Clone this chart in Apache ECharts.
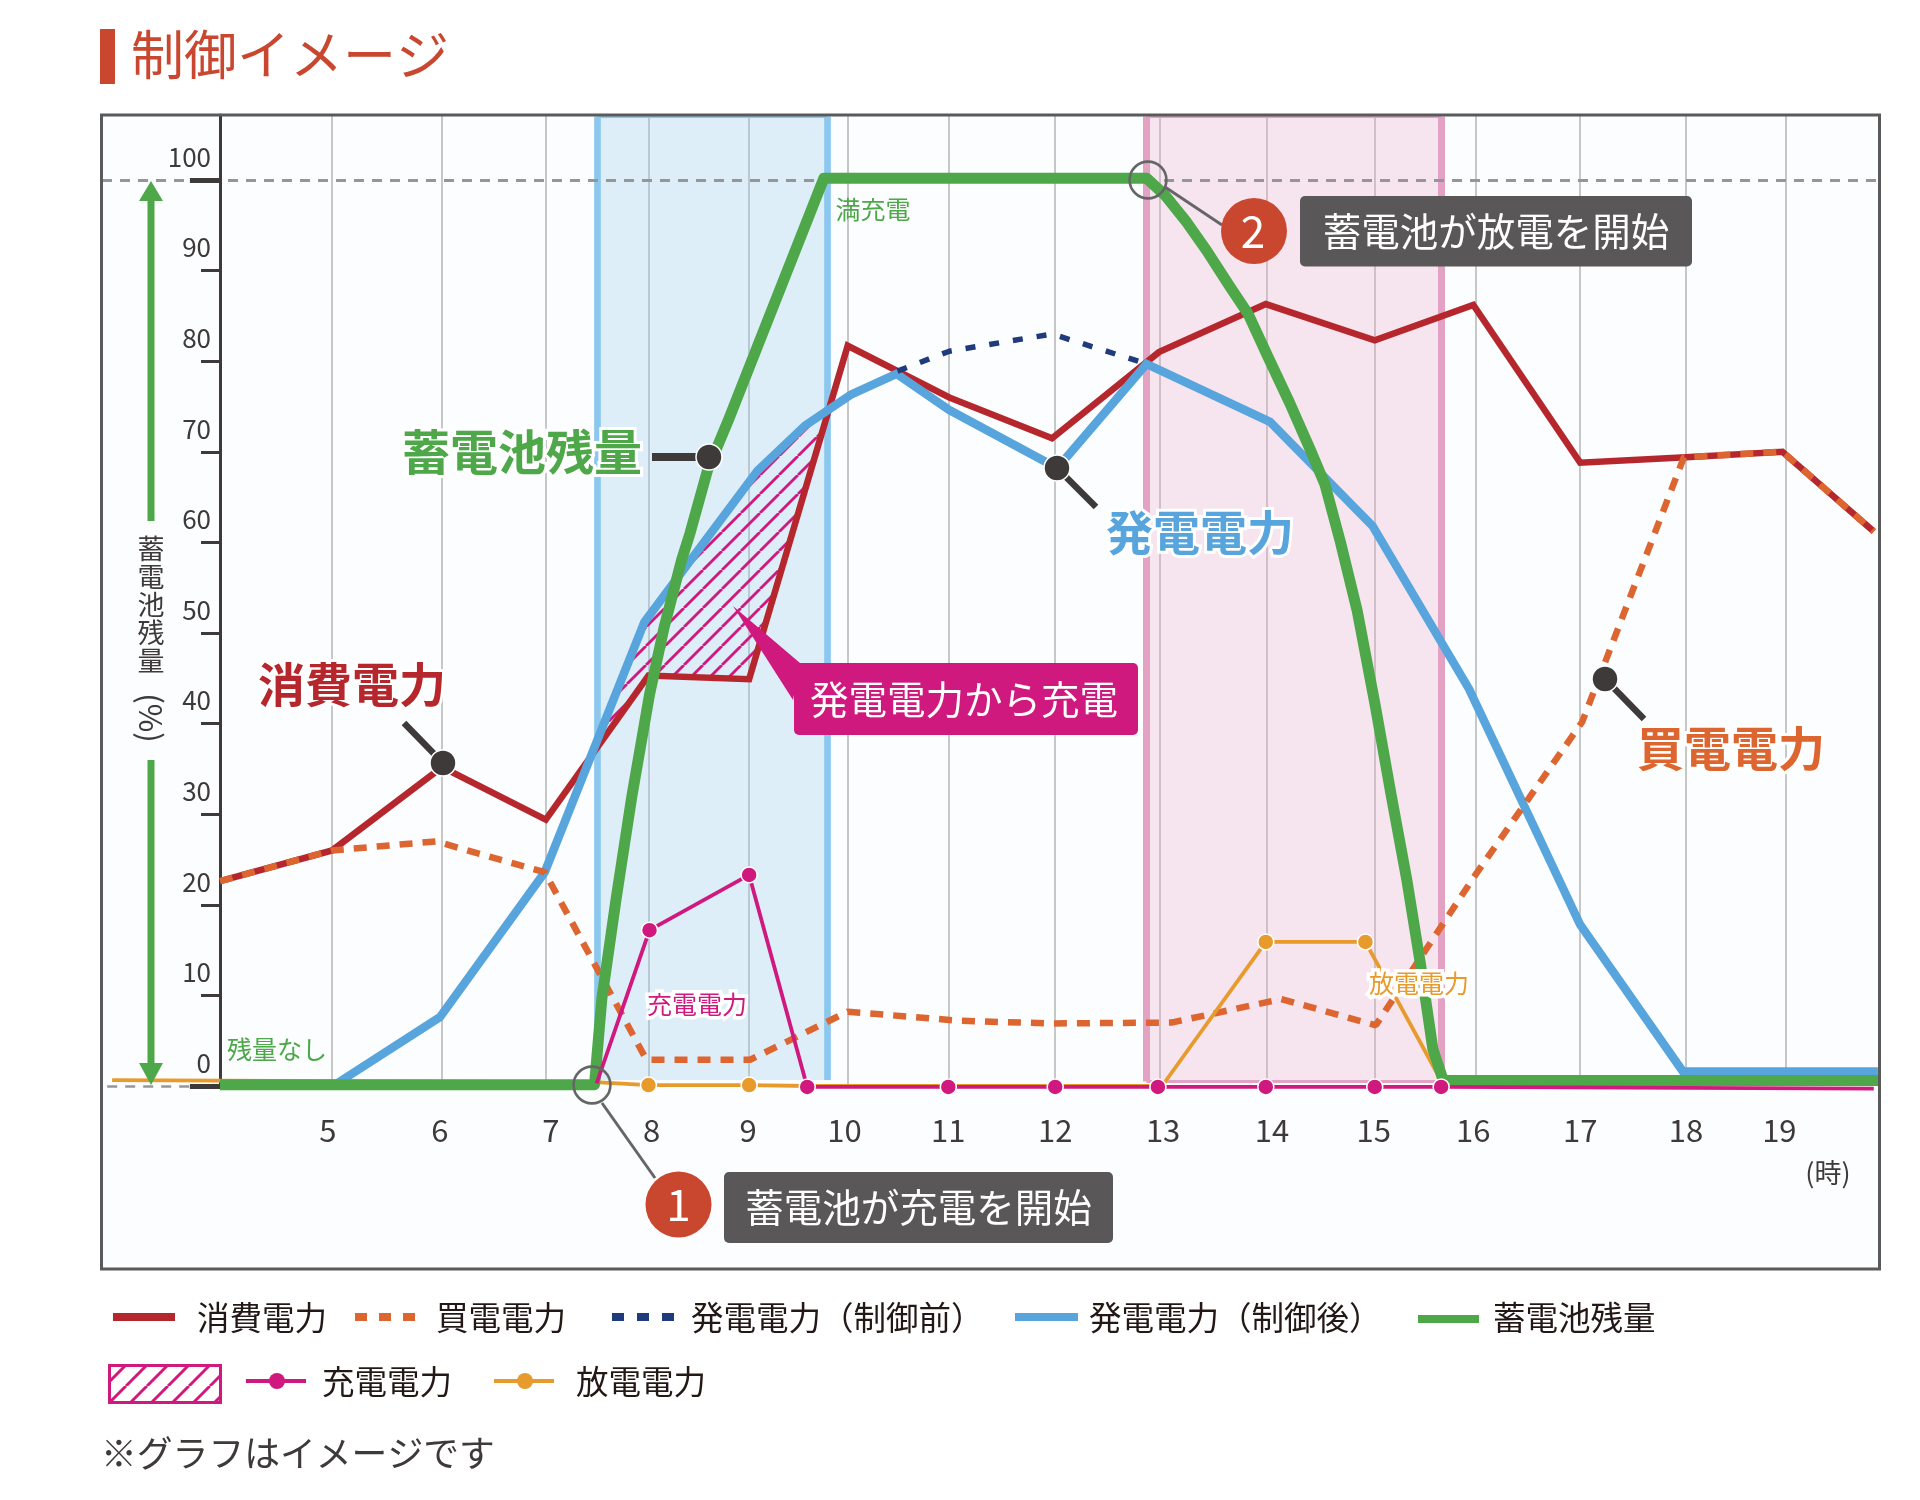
<!DOCTYPE html>
<html><head><meta charset="utf-8">
<style>html,body{margin:0;padding:0;background:#fff}#c{width:1920px;height:1500px}</style>
<script src="https://cdn.jsdelivr.net/npm/echarts@6/dist/echarts.min.js"></script>
</head><body><div id="c"></div>
<script>
// ---------- data (hours on a linear clock scale, values in %) ----------
const gridHours = [5.08,6.14,7.14,8.13,9.10,10.05,11.02,12.05,13.06,14.09,15.13,16.10,17.11,18.13,19.09];
const labelHours = [5.04,6.12,7.19,8.16,9.09,10.02,11.02,12.05,13.09,14.14,15.12,16.08,17.11,18.13,19.03];
const yTicks = [0,10,20,30,40,50,60,70,80,90,100];

const consumedT = [4,5.08,6.14,7.14,8.13,9.10,10.05,11.03,12.02,13.05,14.08,15.13,16.08,17.11,18.13,19.06,19.94];
const consumedV = [22.6,26,35.2,29.4,45.3,44.9,81.7,76,71.5,81,86.3,82.3,86.2,68.8,69.4,70,61.2];
const boughtT = [4,5.08,6.08,7.13,8.11,9.11,10.05,11.13,12.02,13.17,14.23,15.14,16.10,17.13,18.11,19.06,19.94];
const boughtV = [22.6,26,27,23.6,2.9,2.9,8.2,7.2,6.9,7,9.6,6.7,23.3,40.2,69.4,70,61.2];
const genBeforeT = [10.53,11.03,12.02,12.93];
const genBeforeV = [78.9,81.1,83,79.7];
const genAfterT = [5.13,6.12,7.13,8.09,9.18,9.64,10.08,10.52,11.03,12.07,12.93,14.12,15.11,16.04,17.11,18.10,19.98];
const genAfterV = [0.3,7.6,23.6,51.2,67.9,72.9,76.3,78.6,74.6,68.2,79.7,73.3,61.8,43.8,17.8,1.6,1.6];
// battery, read as one polyline with many close points along the curves
const batteryT = [4,7.61,7.68,7.82,7.97,8.14,8.28,8.45,8.53,8.70,8.90,9.82,12.93,13.11,13.32,13.51,13.73,13.91,14.10,14.31,14.51,14.65,14.80,14.96,15.13,15.29,15.44,15.57,15.69,15.79,20];
const batteryV = [0.15,0.15,9.6,20.8,32,43.2,50.6,58.1,61,68,73.5,100.2,100.2,98.3,95.3,92.2,88.3,85.2,80.5,75.4,70.2,66.4,60.0,52.5,42.3,32.0,22.7,13.5,4.1,0.6,0.6];
const chargeT = [7.63,8.14,9.10,9.66,11.02,12.05,13.04,14.08,15.13,15.77,19.94];
const chargeV = [0.3,17.2,23.3,-0.1,-0.1,-0.1,-0.1,-0.1,-0.1,-0.1,-0.3];
const chargeDots = [1,2,3,4,5,6,7,8,9];
const dischargeT = [2.96,7.66,8.13,9.10,9.66,13.08,14.08,15.04,15.76];
const dischargeV = [0.65,0.4,0.1,0.1,0,0,15.9,15.9,0.8];
const dischargeDots = [2,3,6,7];
const hatchT = [7.58,8.09,9.18,9.64,9.87,9.10,8.13];
const hatchV = [36.7,51.2,67.9,72.9,74.6,44.9,45.3];
const chargeBand = [7.64,9.85];
const dischargeBand = [12.93,15.77];

// ---------- style ----------
const JP = '"Noto Sans CJK JP"';
const RED='#b5272d', ORANGE='#dd6530', NAVY='#1f3a7d', BLUE='#57a5dc', GREEN='#4ea84a', PINK='#d0197f', AMBER='#e89b2d', INK='#3e3a39', BADGE='#c9472f', BOX='#595757';
const X0=2.8627, X1=20, YMAX=107.17;
const zip=(t,v)=>t.map((x,i)=>[x,v[i]]);

function hatchPattern(s,w){
  const c=document.createElement('canvas');c.width=s;c.height=s;
  const g=c.getContext('2d');g.strokeStyle=PINK;g.lineWidth=w;
  for(const o of [-s,0,s]){g.beginPath();g.moveTo(o,s);g.lineTo(o+s,0);g.stroke();}
  return {image:c,repeat:'repeat'};
}
const hatch=hatchPattern(19,2.8), hatchLegend=hatchPattern(21,3);

function lineSeries(name,t,v,color,width,z,extra){
  return Object.assign({name,type:'line',data:zip(t,v),showSymbol:false,symbol:'none',clip:false,z,
    lineStyle:{color,width,join:'round'},silent:true},extra||{});
}
function dotSeries(name,t,v,dots,color,z){
  const set=new Set(dots);
  return {name,type:'line',clip:false,z,silent:true,showSymbol:true,showAllSymbol:true,symbol:'circle',
    symbolSize:(val,p)=>set.has(p.dataIndex)?16:0,
    itemStyle:{color,borderColor:'#fff',borderWidth:1.5},
    lineStyle:{color,width:3.8},data:zip(t,v)};
}
const seg=(a,b,color,width,type)=>[{coord:a,lineStyle:{color,width,type:type||'solid'}},{coord:b}];

const guides={type:'line',data:[],silent:true,z:1,
  markArea:{silent:true,data:[
    [{xAxis:chargeBand[0],yAxis:0.66,itemStyle:{color:'rgba(154,205,237,.3)'}},{xAxis:chargeBand[1],yAxis:107}],
    [{xAxis:dischargeBand[0],yAxis:0.5,itemStyle:{color:'rgba(234,173,201,.3)'}},{xAxis:dischargeBand[1],yAxis:107}]
  ]},
  markLine:{silent:true,symbol:'none',label:{show:false},animation:false,data:[
    seg([chargeBand[0],0.66],[chargeBand[0],107],'#8cc8ee',6.7),
    seg([chargeBand[1],0.66],[chargeBand[1],107],'#8cc8ee',6.7),
    seg([chargeBand[0],107],[chargeBand[1],107],'#8cc8ee',3),
    seg([dischargeBand[0],0.5],[dischargeBand[0],107],'#e3a2c3',7),
    seg([dischargeBand[1],0.5],[dischargeBand[1],107],'#e3a2c3',7),
    seg([dischargeBand[0],107],[dischargeBand[1],107],'#e3a2c3',3),
    seg([dischargeBand[0],0.5],[dischargeBand[1],0.5],'#e3a2c3',3),
    seg([X0,100],[X1,100],'#969696',3,[10,8]),
    seg([X0+0.05,0],[3.71,0],'#969696',2.5,[10,8]),
    seg([3.71,100],[4,100],INK,5),
    seg([3.71,0],[4,0],INK,5),
    seg([4,-0.1],[X1,-0.1],INK,3)
  ]}
};
const hatchSeries={type:'custom',z:1,silent:true,clip:false,data:[[hatchT[0],hatchV[0]]],
  renderItem:(p,api)=>({type:'polygon',
    shape:{points:hatchT.map((t,i)=>api.coord([t,hatchV[i]]))},
    style:{fill:hatch,stroke:null}})};

// ---------- annotations ----------
const G=[];
const txt=(s,x,y,size,fill,o)=>G.push(Object.assign({type:'text',z:(o&&o.z)||60,silent:true,style:Object.assign({text:s,x,y,fontSize:size,fontFamily:JP,fill,align:'center',verticalAlign:'middle'},o&&o.style||{})},o&&o.top||{}));
const halo={stroke:'#fff',lineWidth:7,strokeFirst:true,lineJoin:'round'};
const rect=(x,y,w,h,fill,z,r,stroke,lw)=>G.push({type:'rect',z,silent:true,shape:{x,y,width:w,height:h,r:r||0},style:{fill,stroke:stroke||null,lineWidth:lw||0}});
const ln=(x1,y1,x2,y2,stroke,lw,z,dash)=>G.push({type:'line',z,silent:true,shape:{x1,y1,x2,y2},style:{stroke,lineWidth:lw,lineDash:dash||null}});
const circ=(cx,cy,r,fill,z,stroke,lw)=>G.push({type:'circle',z,silent:true,shape:{cx,cy,r},style:{fill,stroke:stroke||null,lineWidth:lw||0}});
const poly=(pts,fill,z)=>G.push({type:'polygon',z,silent:true,shape:{points:pts},style:{fill}});

rect(101,115,1779,1154,'#fbfdfe',-10);
rect(101.5,115,1778,1154,null,40,0,'#5a5a5a',3);
rect(100,29,15,55,BADGE,60);
txt('制御イメージ',131,55,53,BADGE,{style:{align:'left'}});
// left arrows
poly([[151,181],[163,201],[139,201]],GREEN,20); rect(147.5,201,7,320,GREEN,20);
rect(147.5,760,7,303,GREEN,20); poly([[151,1085],[163,1063],[139,1063]],GREEN,20);
txt('蓄',151,549,27,INK);txt('電',151,577,27,INK);txt('池',151,605,27,INK);txt('残',151,633,27,INK);txt('量',151,661,27,INK);
G.push({type:'text',z:60,silent:true,x:151,y:718,rotation:-Math.PI/2,style:{text:'(%)',x:0,y:0,fontSize:31,fontFamily:JP,fill:INK,align:'center',verticalAlign:'middle'}});
txt('(時)',1828,1173,27,INK);
// inline labels
txt('満充電',873,209,25,GREEN);
txt('残量なし',277,1049,25,GREEN);
txt('充電電力',697,1004,25,PINK,{style:halo});
txt('放電電力',1419,983,25,AMBER,{style:halo});
const bold={fontWeight:700,stroke:'#fff',lineWidth:6,strokeFirst:true,lineJoin:'round'};
txt('蓄電池残量',522,452,48,GREEN,{style:bold});
txt('消費電力',352,684,47,RED,{style:bold});
txt('発電電力',1200,532,47,BLUE,{style:bold});
txt('買電電力',1731,748,47,ORANGE,{style:bold});
// leader pins
ln(652,457,705,457,INK,8,55); circ(709,457,13,INK,56,'#fff',1.5);
ln(404,723,443,763,INK,6.5,55); circ(443,763,13,INK,56,'#fff',1.5);
ln(1096,507,1057,468,INK,6.5,55); circ(1057,468,13,INK,56,'#fff',1.5);
ln(1644,719,1605,679,INK,6.5,55); circ(1605,679,13,INK,56,'#fff',1.5);
// numbered callouts
circ(592,1085,18.4,null,50,'#666',2.6); ln(602,1103,655,1178,'#666',3,50);
circ(678.5,1204.5,33,BADGE,60); txt('1',678.5,1204,44,'#fff');
rect(724,1172,389,71,BOX,60,5); txt('蓄電池が充電を開始',918.5,1207,38.5,'#fff');
circ(1148,180,18.4,null,50,'#666',2.6); ln(1165,187,1222,225,'#666',3,50);
circ(1254,231,33,BADGE,60); txt('2',1253,231,44,'#fff');
rect(1300,196,392,70.5,BOX,60,5); txt('蓄電池が放電を開始',1496,231,38.5,'#fff');
// pink callout
poly([[733,606],[800,663],[793,700]],PINK,58); rect(794,663,344,72,PINK,58,5);
txt('発電電力から充電',964,699,38.5,'#fff');
// legend
const TXT='#231815';
const lg=(s,x,y)=>txt(s,x,y,32.5,TXT,{style:{align:'left'}});
ln(113,1317,175,1317,RED,8,60); lg('消費電力',197,1318);
ln(355,1317,415,1317,ORANGE,8,60,[12,12]); lg('買電電力',436,1318);
ln(612,1317,674,1317,NAVY,8,60,[12,13]); lg('発電電力（制御前）',691,1318);
ln(1015,1317,1078,1317,BLUE,8,60); lg('発電電力（制御後）',1089,1318);
ln(1418,1319,1479,1319,GREEN,8,60); lg('蓄電池残量',1493,1318);
G.push({type:'rect',z:60,silent:true,shape:{x:109.5,y:1365.5,width:111,height:37},style:{fill:hatchLegend,stroke:PINK,lineWidth:3}});
ln(246,1381,306,1381,PINK,4,60); circ(277,1381,8,PINK,61); lg('充電電力',322,1382);
ln(494,1381,554,1381,AMBER,4,60); circ(525,1381,8,AMBER,61); lg('放電電力',576,1382);
txt('※グラフはイメージです',101,1453,35.8,INK,{style:{align:'left'}});

// ---------- chart ----------
const chart=echarts.init(document.getElementById('c'),null,{width:1920,height:1500,renderer:'canvas'});
chart.setOption({
  animation:false,backgroundColor:'#fff',
  grid:{left:102,right:40,top:115,bottom:414,containLabel:false},
  xAxis:{type:'value',min:X0,max:X1,
    axisLine:{show:false},
    axisTick:{show:false,customValues:gridHours},
    splitLine:{show:true,lineStyle:{color:'#b5b5b5',width:1.5}},
    axisLabel:{customValues:labelHours,formatter:v=>String(Math.floor(v)),fontSize:31,fontFamily:JP,color:INK,margin:29}},
  yAxis:{type:'value',min:0,max:YMAX,offset:-118,
    axisLine:{show:true,lineStyle:{color:INK,width:3}},
    axisTick:{show:true,customValues:yTicks,length:19,lineStyle:{color:INK,width:3}},
    splitLine:{show:false},
    axisLabel:{customValues:yTicks,fontSize:26,fontFamily:JP,color:INK,margin:9,verticalAlign:'bottom',padding:[0,0,10,0]}},
  graphic:{elements:G},
  series:[
    guides,hatchSeries,
    lineSeries('消費電力',consumedT,consumedV,RED,6.5,5,{lineStyle:{color:RED,width:6.5,join:'miter'}}),
    lineSeries('発電電力（制御後）',genAfterT,genAfterV,BLUE,8.5,6,{lineStyle:{color:BLUE,width:8.5,join:'miter'}}),
    lineSeries('発電電力（制御前）',genBeforeT,genBeforeV,NAVY,5.5,7,{lineStyle:{color:NAVY,width:5.5,type:[10,14]}}),
    lineSeries('買電電力',boughtT,boughtV,ORANGE,6.5,8,{lineStyle:{color:ORANGE,width:6.5,type:[13,10]}}),
    dotSeries('放電電力',dischargeT,dischargeV,dischargeDots,AMBER,9),
    lineSeries('蓄電池残量',batteryT,batteryV,GREEN,11,10),
    dotSeries('充電電力',chargeT,chargeV,chargeDots,PINK,11)
  ]
});
</script></body></html>
